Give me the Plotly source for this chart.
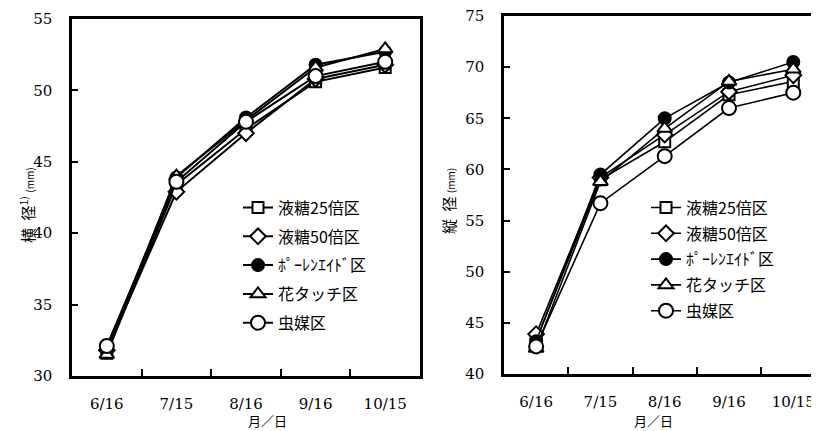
import plotly.graph_objects as go

dates = ["6/16", "7/15", "8/16", "9/16", "10/15"]
series_names = ["液糖25倍区", "液糖50倍区", "ﾎﾟｰﾚﾝｴｲﾄﾞ区", "花タッチ区", "虫媒区"]

# 横径 (mm)
width_25 = [31.6, 43.4, 47.3, 50.6, 51.6]
width_50 = [31.8, 42.9, 47.0, 50.8, 51.8]
width_pollen = [31.9, 43.9, 48.1, 51.8, 52.7]
width_touch = [31.5, 44.0, 47.9, 51.6, 52.9]
width_insect = [32.1, 43.6, 47.8, 51.0, 52.0]

# 縦径 (mm)
length_25 = [43.3, 59.0, 62.7, 67.3, 68.6]
length_50 = [43.9, 59.2, 63.4, 67.6, 69.2]
length_pollen = [43.2, 59.5, 65.0, 68.5, 70.5]
length_touch = [42.5, 58.8, 64.0, 68.6, 69.8]
length_insect = [42.7, 56.7, 61.3, 66.0, 67.5]

width_series = [width_25, width_50, width_pollen, width_touch, width_insect]
length_series = [length_25, length_50, length_pollen, length_touch, length_insect]

symbols = ["square", "diamond", "circle", "triangle-up", "circle"]
fills = ["white", "white", "black", "white", "white"]
msizes = [11, 12, 12, 13, 14]

W, H = 811, 423  # page body has an 8px margin

fig = go.Figure()

for name, ys, sym, fc, ms in zip(series_names, width_series, symbols, fills, msizes):
    fig.add_trace(go.Scatter(
        x=dates, y=ys, name=name, mode="lines+markers",
        line=dict(color="black", width=2),
        marker=dict(symbol=sym, size=ms, color=fc, line=dict(color="black", width=2)),
        xaxis="x", yaxis="y", legend="legend", legendgroup="a" + name,
    ))

for name, ys, sym, fc, ms in zip(series_names, length_series, symbols, fills, msizes):
    fig.add_trace(go.Scatter(
        x=dates, y=ys, name=name, mode="lines+markers",
        line=dict(color="black", width=1.6),
        marker=dict(symbol=sym, size=ms, color=fc, line=dict(color="black", width=2)),
        xaxis="x2", yaxis="y2", legend="legend2", legendgroup="b" + name,
    ))

tick_font = dict(family="DejaVu Serif, Liberation Serif, serif", size=15, color="black")
leg_font = dict(family="Noto Sans CJK JP, sans-serif", size=16, color="black")
title_font = dict(family="Noto Sans CJK JP", size=15, color="black")

common_x = dict(type="category", categoryorder="array", categoryarray=dates,
                tickson="boundaries", ticks="inside", ticklen=7, tickwidth=2,
                tickcolor="black", showline=True, linecolor="black", linewidth=2.5,
                showgrid=False, zeroline=False, tickfont=tick_font,
                ticklabelstandoff=12, automargin=False, ticklabeloverflow="allow")
common_y = dict(ticks="inside", ticklen=6, tickwidth=1.5, tickcolor="black",
                showline=True, linecolor="black", linewidth=2.5, showgrid=False,
                zeroline=False, tickfont=tick_font, dtick=5, ticklabelstandoff=14,
                automargin=False, ticklabeloverflow="allow")

fig.update_layout(
    width=W, height=H,
    margin=dict(l=0, r=0, t=0, b=0, autoexpand=False),
    paper_bgcolor="white", plot_bgcolor="white",
    xaxis=dict(common_x, domain=[64 / W, 412 / W], range=[-0.5, 4.5], mirror=True, anchor="y"),
    yaxis=dict(common_y, domain=[1 - 368 / H, 1 - 11 / H], range=[30, 55], mirror=True, anchor="x"),
    xaxis2=dict(common_x, domain=[496 / W, 1.0], range=[-0.5, 4.4], mirror=True, anchor="y2"),
    yaxis2=dict(common_y, domain=[1 - 366 / H, 1 - 8 / H], range=[40, 75], mirror=False, anchor="x2"),
    legend=dict(x=230 / W, y=1 - 182.6 / H, xanchor="left", yanchor="top", font=leg_font,
                bgcolor="rgba(0,0,0,0)", tracegroupgap=5, itemwidth=30),
    legend2=dict(x=638 / W, y=1 - 182.6 / H, xanchor="left", yanchor="top", font=leg_font,
                 bgcolor="rgba(0,0,0,0)", tracegroupgap=2, itemwidth=30),
    showlegend=True,
    annotations=[
        dict(text="横\u2002径<sup>1)</sup> <span style='font-size:10px'>(mm)</span>",
             x=6 / W, y=1 - 197 / H, xref="paper", yref="paper",
             textangle=-90, showarrow=False, font=title_font),
        dict(text="縦\u2002径 <span style='font-size:10px'>(mm)</span>",
             x=440 / W, y=1 - 193 / H, xref="paper", yref="paper",
             textangle=-90, showarrow=False, font=title_font),
        dict(text="月／日", x=239 / W, y=0, xref="paper", yref="paper",
             yanchor="bottom", borderpad=0,
             showarrow=False, font=dict(family="Noto Sans CJK JP", size=13, color="black")),
        dict(text="月／日", x=666 / W, y=0, xref="paper", yref="paper",
             yanchor="bottom", borderpad=0,
             showarrow=False, font=dict(family="Noto Sans CJK JP", size=13, color="black")),
    ],
)

fig.write_html("out.html")
